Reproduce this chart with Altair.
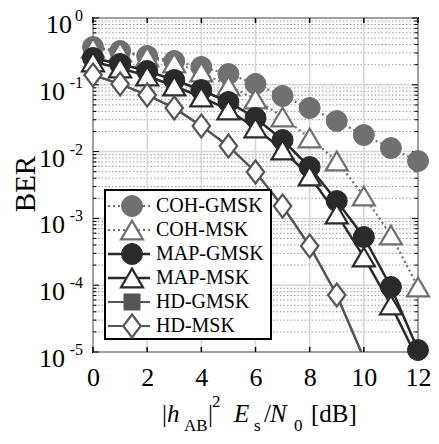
import altair as alt
import pandas as pd

FONT = "Liberation Serif"
W = 325
H = 334

# ---------------- data ----------------
snr = list(range(13))
snr_hd = list(range(11))
coh_gmsk = [0.368, 0.321, 0.270, 0.227, 0.185, 0.145, 0.103, 0.068, 0.0449, 0.0287, 0.0177, 0.0113, 0.00723]
coh_msk = [0.356, 0.310, 0.261, 0.212, 0.155, 0.096, 0.0613, 0.033, 0.016, 0.00723, 0.00216, 0.000564, 0.000094]
map_gmsk = [0.252, 0.205, 0.161, 0.118, 0.0836, 0.0553, 0.0318, 0.0149, 0.00588, 0.00182, 0.000527, 0.000094, 0.0000107]
map_msk = [0.220, 0.178, 0.1355, 0.096, 0.0657, 0.042, 0.0226, 0.01057, 0.00431, 0.00116, 0.000264, 0.0000506, 0.0000076]
hd_gmsk = [0.140, 0.1028, 0.0704, 0.0449, 0.0242, 0.01213, 0.00495, 0.00153, 0.000386, 0.0000713, 0.0000081]
hd_msk = [0.140, 0.1028, 0.0704, 0.0449, 0.0242, 0.01213, 0.00495, 0.00153, 0.000386, 0.0000713, 0.0000081]
names = ["COH-GMSK", "COH-MSK", "MAP-GMSK", "MAP-MSK", "HD-GMSK", "HD-MSK"]

decades = [1, 0.1, 0.01, 0.001, 0.0001, 0.00001]
exps = ["0", "-1", "-2", "-3", "-4", "-5"]
minor = [m * 10.0 ** k for k in range(-5, 0) for m in range(2, 10)]
xticks = [0, 2, 4, 6, 8, 10, 12]

series = {
    "COH-GMSK": (snr, coh_gmsk),
    "COH-MSK": (snr, coh_msk),
    "MAP-GMSK": (snr, map_gmsk),
    "MAP-MSK": (snr, map_msk),
    "HD-GMSK": (snr_hd, hd_gmsk),
    "HD-MSK": (snr_hd, hd_msk),
}

# ---------------- styles ----------------
TRI = "M0,-0.85L1,0.85L-1,0.85Z"
DIA = "M0,-1.15L0.87,0L0,1.15L-0.87,0Z"
styles = {
    "COH-GMSK": dict(color="#707070", dash=[2, 3], width=2.2, shape="circle", filled=True, size=440, lsize=440),
    "COH-MSK": dict(color="#707070", dash=[2, 3], width=2.2, shape=TRI, filled=False, size=484, lsize=484),
    "MAP-GMSK": dict(color="#2a2a2a", dash=None, width=2.5, shape="circle", filled=True, size=440, lsize=440),
    "MAP-MSK": dict(color="#2a2a2a", dash=None, width=2.5, shape=TRI, filled=False, size=484, lsize=484),
    "HD-GMSK": dict(color="#555555", dash=None, width=2.2, shape="square", filled=True, size=100, lsize=256),
    "HD-MSK": dict(color="#555555", dash=None, width=2.2, shape=DIA, filled=False, size=400, lsize=400),
}

xs = alt.Scale(domain=[0, 12], nice=False, zero=False)
ys = alt.Scale(type="log", domain=[1e-5, 1], nice=False)
xaxis = alt.Axis(values=xticks, ticks=False, domain=False, grid=False, labelFont=FONT,
                 labelFontSize=26, labelColor="black", labelPadding=12, title=None,
                 labelFlush=False, labelOverlap=False)
X = alt.X("x:Q", scale=xs, axis=xaxis)
Y = alt.Y("y:Q", scale=ys, axis=None)

ONE = alt.Data(values=[{}])


def point_props(st, size):
    if st["filled"]:
        return dict(shape=st["shape"], size=size, filled=True, fill=st["color"], stroke=st["color"],
                    strokeWidth=1, opacity=1)
    return dict(shape=st["shape"], size=size, filled=True, fill="white", stroke=st["color"],
                strokeWidth=2.2, opacity=1)


def line_props(st):
    p = dict(color=st["color"], strokeWidth=st["width"])
    if st["dash"]:
        p["strokeDash"] = st["dash"]
    return p


layers = []

# grid
layers.append(alt.Chart(pd.DataFrame({"y": minor})).mark_rule(color="#9a9a9a", strokeWidth=1, strokeDash=[1.5, 2]).encode(y=Y))
layers.append(alt.Chart(pd.DataFrame({"x": xticks})).mark_rule(color="#d6d6d6", strokeWidth=1.5).encode(x=X))
layers.append(alt.Chart(pd.DataFrame({"y": decades})).mark_rule(color="#d6d6d6", strokeWidth=1.5).encode(y=Y))

# inner ticks
tk = pd.DataFrame({"x": xticks})
layers.append(alt.Chart(tk).mark_rule(color="black", strokeWidth=1.5).encode(x=X, y=alt.value(H), y2=alt.value(H - 5)))
layers.append(alt.Chart(tk).mark_rule(color="black", strokeWidth=1.5).encode(x=X, y=alt.value(0), y2=alt.value(5)))
for vals, ln in ((decades, 6), (minor, 3.5)):
    d = pd.DataFrame({"y": vals})
    layers.append(alt.Chart(d).mark_rule(color="black", strokeWidth=1).encode(y=Y, x=alt.value(0), x2=alt.value(ln)))
    layers.append(alt.Chart(d).mark_rule(color="black", strokeWidth=1).encode(y=Y, x=alt.value(W - ln), x2=alt.value(W)))

# series
for nm in names:
    xv, yv = series[nm]
    st = styles[nm]
    df = pd.DataFrame({"x": xv, "y": yv})
    base = alt.Chart(df)
    layers.append(base.mark_line(clip=True, **line_props(st)).encode(x=X, y=Y))
    layers.append(base.transform_filter(alt.datum.y >= 1e-5).mark_point(**point_props(st, st["size"])).encode(x=X, y=Y))

# legend
layers.append(alt.Chart(ONE).mark_rect(fill="white", stroke="black", strokeWidth=2).encode(
    x=alt.value(12), x2=alt.value(178), y=alt.value(172), y2=alt.value(321)))
for i, nm in enumerate(names):
    st = styles[nm]
    ry = 188 + 24 * i
    layers.append(alt.Chart(ONE).mark_rule(**line_props(st)).encode(x=alt.value(15), x2=alt.value(57), y=alt.value(ry)))
    layers.append(alt.Chart(ONE).mark_point(**point_props(st, st["lsize"])).encode(x=alt.value(39), y=alt.value(ry)))
    layers.append(alt.Chart(ONE).mark_text(text=nm, font=FONT, fontSize=20, align="left", baseline="middle",
                                           color="black").encode(x=alt.value(63), y=alt.value(ry)))

# y tick labels 10^k
ylab = pd.DataFrame({"y": decades, "e": exps})
layers.append(alt.Chart(ylab).transform_filter(alt.datum.e == "0").mark_text(
    text="10", font=FONT, fontSize=26, align="right", baseline="alphabetic", dy=15, color="black").encode(
    y=Y, x=alt.value(-21)))
layers.append(alt.Chart(ylab).transform_filter(alt.datum.e != "0").mark_text(
    text="10", font=FONT, fontSize=26, align="right", baseline="alphabetic", dy=15, color="black").encode(
    y=Y, x=alt.value(-28)))
layers.append(alt.Chart(ylab).mark_text(font=FONT, fontSize=16, align="right", baseline="alphabetic", dy=3,
                                        color="black").encode(y=Y, x=alt.value(-10), text="e:N"))

# y title
layers.append(alt.Chart(ONE).mark_text(text="BER", font=FONT, fontSize=29, angle=270, align="center",
                                       baseline="middle", color="black").encode(x=alt.value(-67), y=alt.value(166)))

# x title pieces: |h_AB|^2 E_s/N_0 [dB]
pieces = [
    ("|", 69, 404, 25, "normal"),
    ("h", 74, 404, 25, "italic"),
    ("AB", 91, 413, 17, "normal"),
    ("|", 115, 404, 25, "normal"),
    ("2", 119, 389, 17, "normal"),
    ("E", 141, 404, 25, "italic"),
    ("s", 161, 413, 17, "normal"),
    ("/", 171, 404, 25, "normal"),
    ("N", 177, 404, 25, "italic"),
    ("0", 201, 413, 17, "normal"),
    ("[dB]", 218, 404, 25, "normal"),
]
for t, px, py, fs, sty in pieces:
    layers.append(alt.Chart(ONE).mark_text(text=t, font=FONT, fontSize=fs, fontStyle=sty, align="left",
                                           baseline="alphabetic", color="black").encode(
        x=alt.value(px), y=alt.value(py)))

chart = alt.layer(*layers).properties(
    width=W, height=H,
    autosize=alt.AutoSizeParams(type="none"),
    padding={"left": 85, "top": 10, "right": 13, "bottom": 84},
    background="white",
).configure_view(stroke="black", strokeWidth=2)

chart.save("out.html", embed_options={"renderer": "svg", "actions": False})
